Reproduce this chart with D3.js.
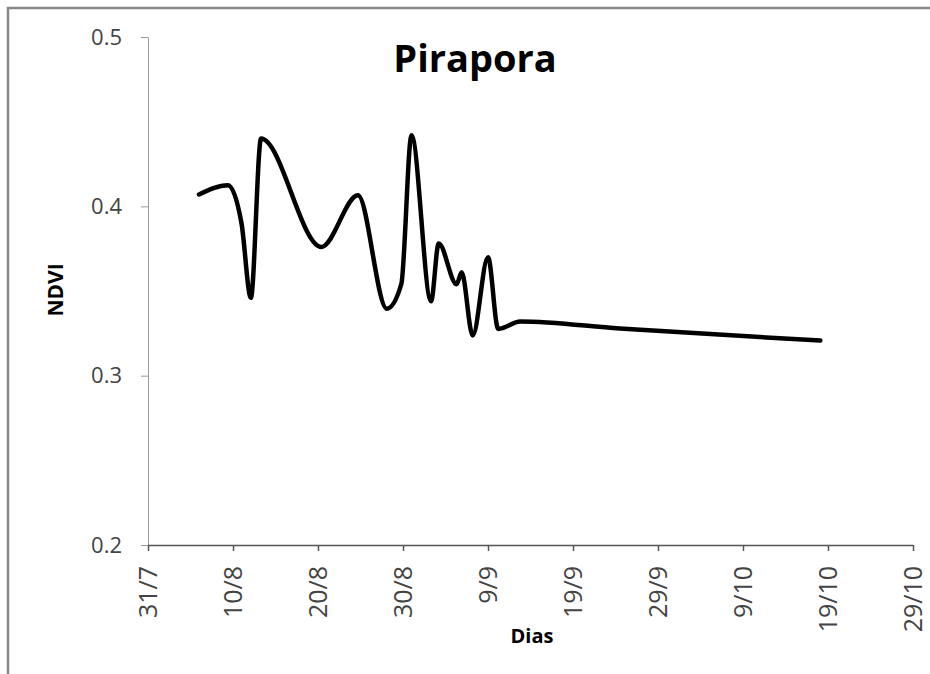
<!DOCTYPE html>
<html>
<head>
<meta charset="utf-8">
<script src="https://cdn.jsdelivr.net/npm/d3@7"></script>
<style>
  body { margin: 0; background: #fff; }
  svg { display: block; }
</style>
</head>
<body>
<div id="chart"></div>
<script>
////////////////////////////////////////////////////////////////////////
// Data (days counted from 31/7, NDVI)

let title = "Pirapora";
let days = [6.0, 9.4, 11.0, 12.1, 13.3, 20.4, 24.7, 28.1, 29.8, 31.0, 33.3, 34.2,
            36.3, 36.9, 38.2, 40.0, 41.2, 43.8, 55.5, 79.1];
let ndvi = [0.407, 0.4125, 0.390, 0.346, 0.440, 0.376, 0.4065, 0.3395, 0.354, 0.442, 0.344, 0.378,
            0.354, 0.361, 0.3237, 0.370, 0.3276, 0.332, 0.3278, 0.3207];
let xTicks = [0, 10, 20, 30, 40, 50, 60, 70, 80, 90];
let xTickLabels = ["31/7", "10/8", "20/8", "30/8", "9/9", "19/9", "29/9", "9/10", "19/10", "29/10"];
let yTicks = [0.2, 0.3, 0.4, 0.5];

////////////////////////////////////////////////////////////////////////
// Setup

let width = 930;
let height = 674;
let font = "'Open Sans', sans-serif";

let xScale = d3.scaleLinear().domain([0, 90]).range([148, 913]);
let yScale = d3.scaleLinear().domain([0.2, 0.5]).range([545, 37]);

let svg = d3.select("#chart")
  .append("svg")
  .attr("width", width)
  .attr("height", height);

// frame of the pasted chart (only top and left edges visible)
svg.append("path")
  .attr("d", "M8,674 L8,8 L930,8")
  .attr("fill", "none")
  .attr("stroke", "#888")
  .attr("stroke-width", 2.5);

////////////////////////////////////////////////////////////////////////
// Axes

let yAxis = svg.append("g")
  .attr("transform", "translate(148,0)")
  .call(d3.axisLeft(yScale).tickValues(yTicks).tickFormat(d3.format(".1f")).tickSize(7).tickSizeOuter(0));

yAxis.select(".domain").attr("stroke", "#999");
yAxis.selectAll(".tick line").attr("stroke", "#999");
yAxis.selectAll(".tick text")
  .attr("x", -26)
  .attr("font-family", font)
  .attr("font-size", 22)
  .attr("fill", "#444");

let xAxis = svg.append("g")
  .attr("transform", "translate(0,545)")
  .call(d3.axisBottom(xScale).tickValues(xTicks).tickFormat((d, i) => xTickLabels[i]).tickSize(6).tickSizeOuter(0));

xAxis.select(".domain").attr("stroke", "#555").attr("stroke-width", 1.5);
xAxis.selectAll(".tick line").attr("stroke", "#555").attr("stroke-width", 1.5);
xAxis.selectAll(".tick text")
  .attr("transform", "rotate(-90)")
  .attr("x", -21)
  .attr("y", 0)
  .attr("dy", "0.35em")
  .attr("text-anchor", "end")
  .attr("font-family", font)
  .attr("font-size", 25)
  .attr("fill", "#444");

////////////////////////////////////////////////////////////////////////
// Labels

svg.append("text")
  .attr("x", 475)
  .attr("y", 72)
  .attr("text-anchor", "middle")
  .attr("font-family", font)
  .attr("font-weight", "bold")
  .attr("font-size", 38)
  .attr("fill", "#000")
  .text(title);

svg.append("text")
  .attr("transform", "translate(63,290) rotate(-90)")
  .attr("text-anchor", "middle")
  .attr("font-family", font)
  .attr("font-weight", "bold")
  .attr("font-size", 21)
  .attr("fill", "#000")
  .text("NDVI");

svg.append("text")
  .attr("x", 532)
  .attr("y", 643)
  .attr("text-anchor", "middle")
  .attr("font-family", font)
  .attr("font-weight", "bold")
  .attr("font-size", 20)
  .attr("fill", "#000")
  .text("Dias");

////////////////////////////////////////////////////////////////////////
// Line (smoothed, like the spreadsheet's smoothed line)

let points = days.map((d, i) => ({ day: d, v: ndvi[i] }));

let line = d3.line()
  .x(d => xScale(d.day))
  .y(d => yScale(d.v))
  .curve(d3.curveMonotoneX);

svg.append("path")
  .datum(points)
  .attr("d", line)
  .attr("fill", "none")
  .attr("stroke", "#000")
  .attr("stroke-width", 4.5)
  .attr("stroke-linecap", "round")
  .attr("stroke-linejoin", "round");
</script>
</body>
</html>
